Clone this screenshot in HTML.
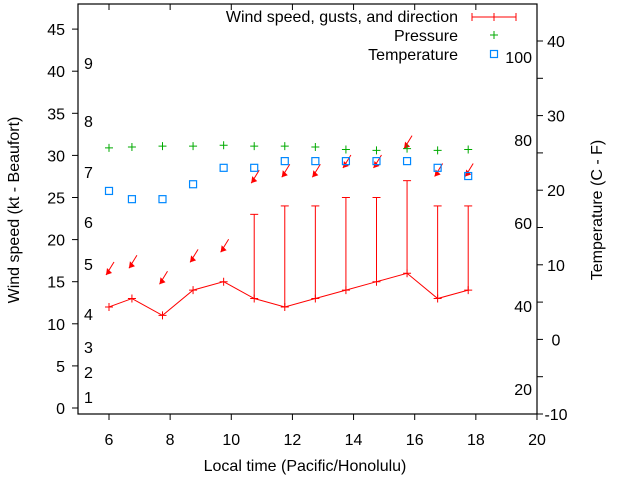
<!DOCTYPE html>
<html><head><meta charset="utf-8"><style>
body{margin:0;background:#fff;}
svg{font-family:"Liberation Sans",sans-serif;font-size:16px;}
</style></head><body>
<svg id="c" width="640" height="480"></svg>
<script>
const times=[6,6.75,7.75,8.75,9.75,10.75,11.75,12.75,13.75,14.75,15.75,16.75,17.75];
const wind=[12,13,11,14,15,13,12,13,14,15,16,13,14];
const gusts=[null,null,null,null,null,23,24,24,25,25,27,24,24];
const pressure=[30.9,31.0,31.1,31.1,31.2,31.1,31.1,31.0,30.7,30.6,30.8,30.6,30.7];
const tempC=[19.9,18.8,18.8,20.8,23.0,23.0,23.9,23.9,23.9,23.9,23.9,23.0,21.9];
const arrowY=[15.8,16.6,14.7,17.3,18.5,26.7,27.4,27.4,28.5,28.5,30.8,27.5,27.5];
const xTicks=[6,8,10,12,14,16,18,20];
const yTicks=[0,5,10,15,20,25,30,35,40,45];
const y2Ticks=[-10,0,10,20,30,40];
const beaufort=[[1,397],[2,372],[3,347],[4,314],[5,264],[6,222],[7,172],[8,121],[9,63]];
const fahr=[[20,389],[40,306],[60,223],[80,140],[100,57]];
const L=78,R=537,T=4,B=414;
const X=v=>109+(v-6)*30.57;
const Y=v=>408-v*8.42;
const Y2=v=>414-(v+10)*7.46;
const svg=document.getElementById('c');
const NS='http://www.w3.org/2000/svg';
function mk(t,a,txt){const e=document.createElementNS(NS,t);for(const k in a)e.setAttribute(k,a[k]);if(txt!==undefined)e.textContent=txt;svg.appendChild(e);return e;}
let e;
e=mk('rect',{x:L,y:T,width:R-L,height:B-T,fill:'none',stroke:'#000','stroke-width':1.2});

xTicks.forEach(v=>{const x=X(v);
 e=mk('line',{x1:x,x2:x,y1:B,y2:B+6,stroke:'#000'});
 e=mk('line',{x1:x,x2:x,y1:T,y2:T+6,stroke:'#000'});
 e=mk('text',{x:x,y:B+31,'text-anchor':'middle'},v);});
yTicks.forEach(v=>{const y=Y(v);
 e=mk('line',{x1:L-6,x2:L,y1:y,y2:y,stroke:'#000'});
 e=mk('text',{x:L-13,y:y+6,'text-anchor':'end'},v);});
for(let v=-10;v<=40;v+=5){const y=Y2(v);
 e=mk('line',{x1:R,x2:R+6,y1:y,y2:y,stroke:'#000'});}
y2Ticks.forEach(v=>{e=mk('text',{x:556,y:Y2(v)+6,'text-anchor':'middle'},v);});
beaufort.forEach(([b,y])=>{e=mk('text',{x:84,y:y+6},b);});
fahr.forEach(([f,y])=>{e=mk('text',{x:532,y:y+6,'text-anchor':'end'},f);});
e=mk('text',{x:305,y:471,'text-anchor':'middle'},'Local time (Pacific/Honolulu)');
e=mk('text',{x:19,y:210,'text-anchor':'middle',transform:'rotate(-90 19 210)'},'Wind speed (kt - Beaufort)');
e=mk('text',{x:602,y:210,'text-anchor':'middle',transform:'rotate(-90 602 210)'},'Temperature (C - F)');
times.forEach((t,i)=>{if(gusts[i]==null)return;const x=X(t),y1=Y(wind[i]),y2=Y(gusts[i]);
 e=mk('line',{x1:x,x2:x,y1:y1,y2:y2,stroke:'#f00'});
 e=mk('line',{x1:x-4,x2:x+4,y1:y2,y2:y2,stroke:'#f00'});});
e=mk('polyline',{points:times.map((t,i)=>X(t)+','+Y(wind[i])).join(' '),fill:'none',stroke:'#f00'});

times.forEach((t,i)=>{const x=X(t),y=Y(wind[i]);
 e=mk('path',{d:`M${x-4},${y}H${x+4}M${x},${y-4}V${y+4}`,stroke:'#f00'});});
times.forEach((t,i)=>{const x=X(t)-3,y=Y(arrowY[i]);
 e=mk('line',{x1:x+8,y1:y-13,x2:x,y2:y,stroke:'#f00'});
 e=mk('polygon',{points:`${x},${y} ${x+1},${y-7} ${x+6},${y-2}`,fill:'#f00'});});
times.forEach((t,i)=>{const x=X(t),y=Y(pressure[i]);
 e=mk('path',{d:`M${x-4},${y}H${x+4}M${x},${y-4}V${y+4}`,stroke:'#0a0'});});
times.forEach((t,i)=>{const x=X(t),y=Y2(tempC[i]);
 e=mk('rect',{x:x-3.5,y:y-3.5,width:7,height:7,fill:'none',stroke:'#08f','stroke-width':1.2});});
e=mk('text',{x:458,y:22,'text-anchor':'end'},'Wind speed, gusts, and direction');
e=mk('path',{d:'M472,17H516M472,13V21M516,13V21M494,13V21',stroke:'#f00'});
e=mk('text',{x:458,y:41,'text-anchor':'end'},'Pressure');
e=mk('path',{d:'M490,35H498M494,31V39',stroke:'#0a0'});
e=mk('text',{x:458,y:60,'text-anchor':'end'},'Temperature');
e=mk('rect',{x:490.5,y:50.5,width:7,height:7,fill:'none',stroke:'#08f','stroke-width':1.2});
</script>
</body></html>
